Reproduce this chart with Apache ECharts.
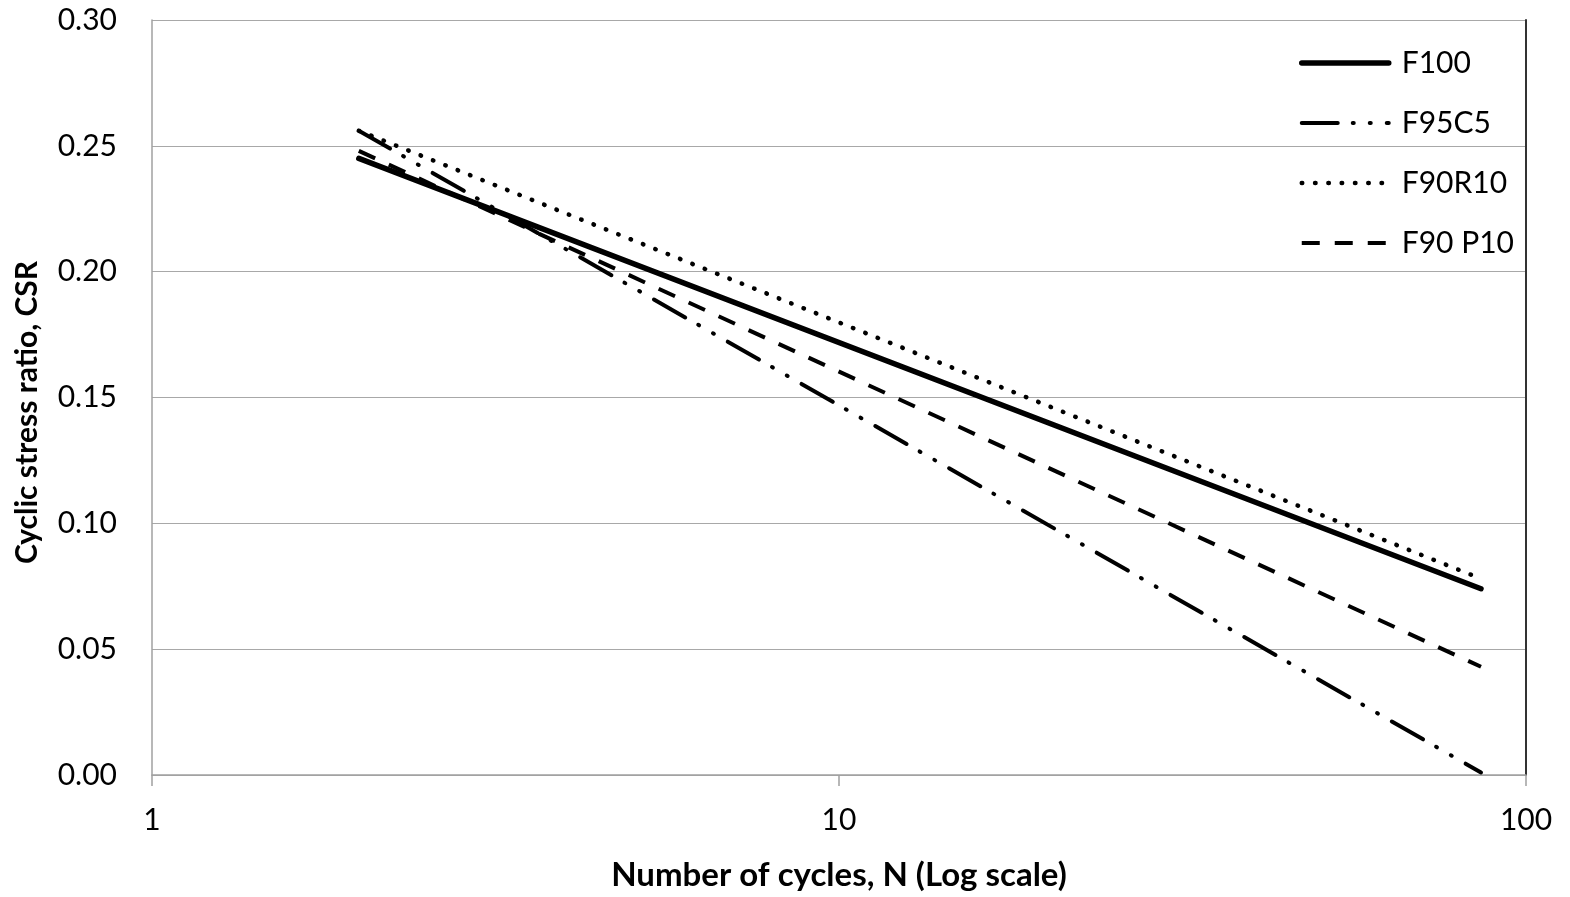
<!DOCTYPE html>
<html>
<head>
<meta charset="utf-8">
<script src="https://cdn.jsdelivr.net/npm/echarts@6/dist/echarts.min.js"></script>
<style>
html,body{margin:0;padding:0;background:#fff;}
#c{width:1570px;height:897px;}
</style>
</head>
<body>
<div id="c"></div>
<script>
// Number of cycles (start and end of each fitted line)
const cycles = [2, 86];
// Cyclic stress ratio values at those cycles
const F100 = [0.245, 0.074];
const F95C5 = [0.256, 0.001];
const F90R10 = [0.256, 0.078];
const F90P10 = [0.248, 0.043];
const seriesNames = ['F100', 'F95C5', 'F90R10', 'F90 P10'];
const yTicks = [0, 0.05, 0.10, 0.15, 0.20, 0.25, 0.30];

const FONT = 'Lato';
function pairs(vals){ return cycles.map((n,i)=>[n, vals[i]]); }

const chart = echarts.init(document.getElementById('c'), null, {renderer:'canvas'});
chart.setOption({
  animation:false,
  backgroundColor:'#fff',
  grid:{left:152, right:44, top:20, bottom:121, containLabel:false},
  legend:{
    orient:'vertical', left:1294, top:43,
    itemWidth:87, itemHeight:30, itemGap:30,
    itemStyle:{opacity:0},
    lineStyle:{width:'inherit', type:'inherit', cap:'inherit'},
    textStyle:{fontFamily:FONT, fontSize:30, color:'#000', lineHeight:30, padding:[0,0,0,8]},
    data:seriesNames
  },
  xAxis:{
    type:'log', logBase:10, min:1, max:100,
    name:'Number of cycles, N (Log scale)', nameLocation:'middle', nameGap:84,
    nameTextStyle:{fontFamily:FONT, fontSize:33, fontWeight:'bold', color:'#000'},
    axisLine:{show:true, lineStyle:{color:'#a0a0a0', width:1.5}},
    axisTick:{show:true, length:11, lineStyle:{color:'#a0a0a0', width:1.5}},
    minorTick:{show:false},
    splitLine:{show:false},
    axisLabel:{fontFamily:FONT, fontSize:30, color:'#000', margin:30}
  },
  yAxis:[{
    type:'value', min:0, max:0.30, interval:0.05,
    name:'Cyclic stress ratio, CSR', nameLocation:'middle', nameGap:110,
    nameTextStyle:{fontFamily:FONT, fontSize:30, fontWeight:'bold', color:'#000', padding:[0,30,0,0]},
    axisLine:{show:true, lineStyle:{color:'#a0a0a0', width:1.5}},
    axisTick:{show:false},
    splitLine:{show:true, lineStyle:{color:'#a8a8a8', width:1.2}},
    axisLabel:{fontFamily:FONT, fontSize:30, color:'#000', margin:35,
      formatter:v=>v.toFixed(2)}
  },{
    type:'value', min:0, max:0.30, interval:0.05, position:'right',
    axisLine:{show:true, lineStyle:{color:'#333', width:2}},
    axisTick:{show:false}, axisLabel:{show:false}, splitLine:{show:false}
  }],
  series:[
    {name:'F100', type:'line', data:pairs(F100), symbol:'none',
     lineStyle:{color:'#000', width:5.5, type:'solid', cap:'round'}, itemStyle:{color:'#000'}},
    {name:'F95C5', type:'line', data:pairs(F95C5), symbol:'none',
     lineStyle:{color:'#000', width:4, type:[36,15,1,16,1,16], cap:'round'}, itemStyle:{color:'#000'}},
    {name:'F90R10', type:'line', data:pairs(F90R10), symbol:'none',
     lineStyle:{color:'#000', width:4.5, type:[0.5,12.8], cap:'round'}, itemStyle:{color:'#000'}},
    {name:'F90 P10', type:'line', data:pairs(F90P10), symbol:'none',
     lineStyle:{color:'#000', width:4, type:[18,15], cap:'butt'}, itemStyle:{color:'#000'}}
  ]
});
</script>
</body>
</html>
